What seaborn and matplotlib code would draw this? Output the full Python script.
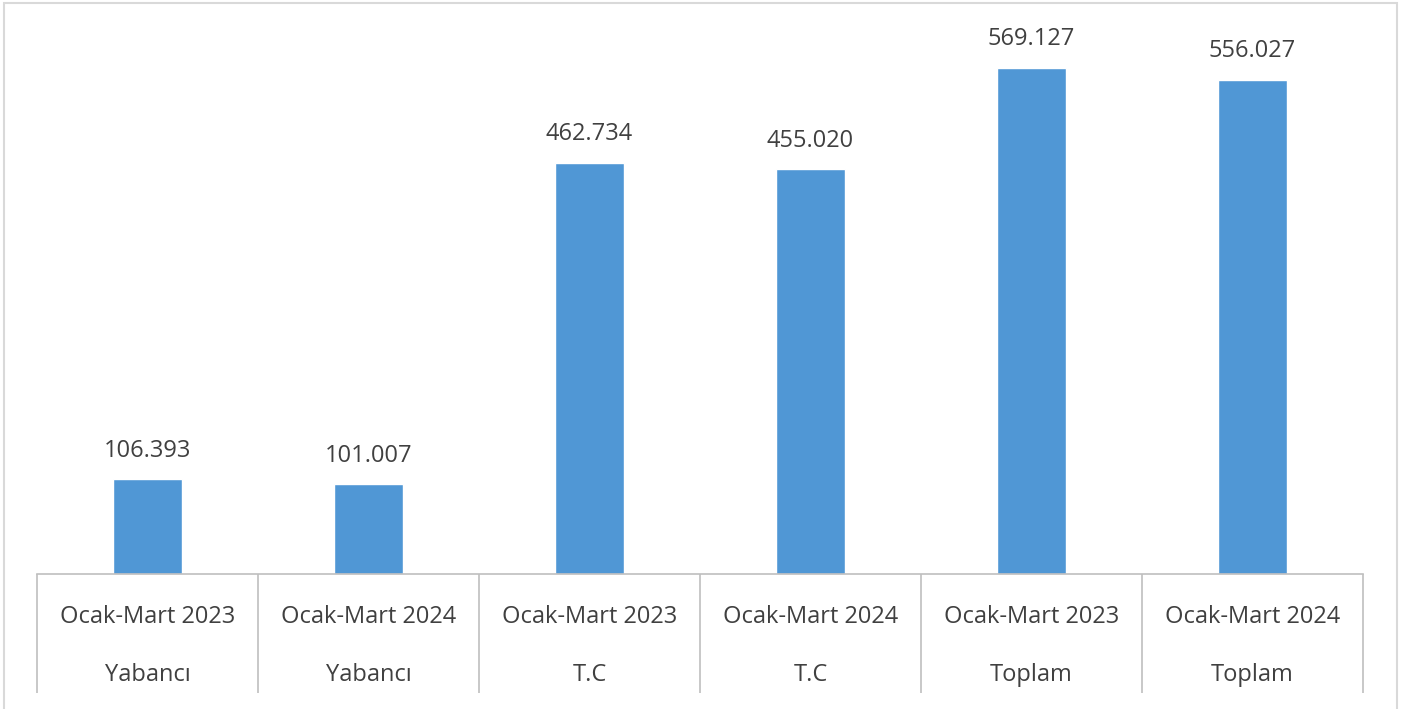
import matplotlib
matplotlib.use("Agg")
import matplotlib.pyplot as plt
from matplotlib.patches import Rectangle
import seaborn as sns
import pandas as pd

# data
periods = ["Ocak-Mart 2023", "Ocak-Mart 2024", "Ocak-Mart 2023", "Ocak-Mart 2024", "Ocak-Mart 2023", "Ocak-Mart 2024"]
groups = ["Yabancı", "Yabancı", "T.C", "T.C", "Toplam", "Toplam"]
values = [106.393, 101.007, 462.734, 455.020, 569.127, 556.027]
value_labels = ["106.393", "101.007", "462.734", "455.020", "569.127", "556.027"]

df = pd.DataFrame({"label": [f"{p}\n{g}" for p, g in zip(periods, groups)], "value": values})

sns.set_style("white")
plt.rcParams["font.family"] = ["Open Sans", "DejaVu Sans"]

fig = plt.figure(figsize=(14.08, 7.09), dpi=100)
ax = fig.add_axes([37 / 1408, 1 - 574 / 709, (1363 - 37) / 1408, (574 - 40.5) / 709])

sns.barplot(data=df, x="label", y="value", color="#5097D5", width=0.315, saturation=1, ax=ax)

ax.set_ylim(0, 600)
ax.set_xlim(-0.5, len(values) - 0.5)
ax.set_yticks([])
ax.set_xlabel("")
ax.set_ylabel("")
for s in ["top", "left", "right"]:
    ax.spines[s].set_visible(False)
ax.spines["bottom"].set_color("#BFBFBF")
ax.spines["bottom"].set_linewidth(1.2)

# two-line category labels
ax.set_xticks(range(len(values)))
ax.set_xticklabels([f"{p}\n\n{g}" for p, g in zip(periods, groups)],
                   fontsize=17, color="#404040", linespacing=1.3, va="top")
ax.tick_params(axis="x", which="major", length=0, pad=22)

# separators between categories
ax.set_xticks([i - 0.5 for i in range(len(values) + 1)], minor=True)
ax.tick_params(axis="x", which="minor", bottom=True, length=86, width=1.2,
               color="#BFBFBF", direction="out")

# value labels
for i, (v, t) in enumerate(zip(values, value_labels)):
    ax.annotate(t, (i, v), xytext=(0, 12), textcoords="offset points",
                ha="center", va="bottom", fontsize=17, color="#404040", annotation_clip=False)

# outer chart border
fig.patches.append(Rectangle((4 / 1408, -0.01), (1397 - 4) / 1408, 1.01 - 3 / 709,
                             transform=fig.transFigure, fill=False, edgecolor="#D9D9D9", linewidth=1.5))

fig.savefig("out.png", dpi=100)
